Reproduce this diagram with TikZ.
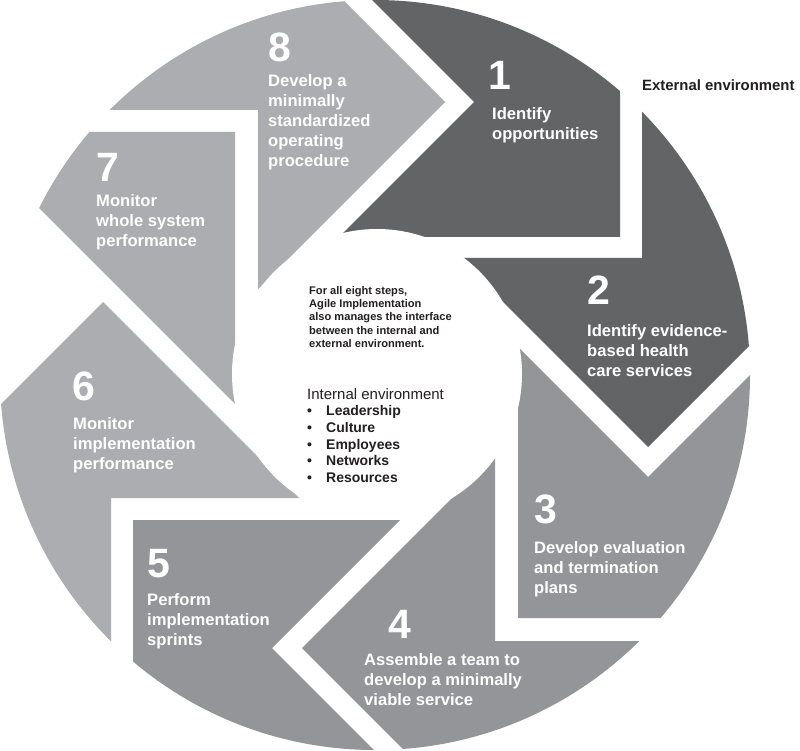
\documentclass[tikz,border=0pt]{standalone}
\usepackage{fontspec}
\setmainfont{Liberation Sans}
\definecolor{darkg}{HTML}{636466}
\definecolor{midg}{HTML}{939598}
\definecolor{lightg}{HTML}{ABADB0}
\definecolor{ink}{HTML}{231F20}
\newcommand{\itm}[1]{\bfseries\fontsize{14}{16.7}\selectfont\makebox[19pt][l]{\textbullet}#1}
\begin{document}
\begin{tikzpicture}[x=1pt,y=-1pt,
  num/.style={anchor=base west, inner sep=0pt, text=white, font=\bfseries\fontsize{41}{41}\selectfont},
  lbl/.style={anchor=north west, inner sep=0pt, text=white, align=left, font=\bfseries\fontsize{16.6}{20}\selectfont},
  note/.style={anchor=north west, inner sep=0pt, text=ink, align=left}]
\useasboundingbox (0,0) rectangle (800,751);
\fill[white] (0,0) rectangle (800,751);
\begin{scope}
  \clip (375,375) circle[radius=375pt];
  % piece 1
  \fill[darkg] (620,237) -- (620,-80) -- (344,-80) -- (344,-28) -- (474,102) -- (339,237) -- cycle;
  % piece 2
  \fill[darkg] (642,258) -- (642,-20) -- (950,-20) -- (950,197) -- (898,197) -- (648,447) -- (459,258) -- cycle;
  % piece 3
  \fill[midg] (648,477) -- (848,277) -- (950,277) -- (950,618) -- (518,618) -- (518,347) -- cycle;
  % piece 4
  \fill[midg] (495,641) -- (950,641) -- (950,950) -- (602,948) -- (302,648) -- (495,455) -- cycle;
  % piece 5
  \fill[midg] (272,648) -- (572,948) -- (133,948) -- (133,520) -- (400,520) -- cycle;
  % piece 6
  \fill[lightg] (111,498) -- (111,950) -- (-197,950) -- (-197,602) -- (103,302) -- (299,498) -- cycle;
  % piece 7
  \fill[lightg] (235,132) -- (-37,132) -- (103,272) -- (235,404) -- cycle;
  % piece 8
  \fill[lightg] (258,110) -- (-100,110) -- (-100,-200) -- (143,-200) -- (445,102) -- (258,289) -- cycle;
\end{scope}
% inner circle
\fill[white] (377,374) circle[radius=145pt];

% numbers
\node[num] (n1) at (488,90) {1};
\node[num] (n2) at (587,305) {2};
\node[num] (n3) at (534,523) {3};
\node[num] (n4) at (388,638) {4};
\node[num] (n5) at (147,577) {5};
\node[num] (n6) at (72,400) {6};
\node[num] (n7) at (96,182) {7};
\node[num] (n8) at (268,62) {8};

% labels
\node[lbl] (l1) at (492,107) {Identify\\opportunities};
\node[lbl] (l2) at (587,324) {Identify evidence-\\based health\\care services};
\node[lbl] (l3) at (534,541) {Develop evaluation\\and termination\\plans};
\node[lbl] (l4) at (364,653) {Assemble a team to\\develop a minimally\\viable service};
\node[lbl] (l5) at (147,593) {Perform\\implementation\\sprints};
\node[lbl] (l6) at (73,417) {Monitor\\implementation\\performance};
\node[lbl] (l7) at (96,194) {Monitor\\whole system\\performance};
\node[lbl] (l8) at (268,74) {Develop a\\minimally\\standardized\\operating\\procedure};

% centre and outside notes
\node[note, font=\bfseries\fontsize{11.1}{13.3}\selectfont] (ctr) at (309,286)
  {For all eight steps,\\Agile Implementation\\also manages the interface\\between the internal and\\external environment.};
\node[note, font=\fontsize{15}{16.7}\selectfont] (int) at (307,388)
  {Internal environment\\\itm{Leadership}\\\itm{Culture}\\\itm{Employees}\\\itm{Networks}\\\itm{Resources}};
\node[note, font=\bfseries\fontsize{14.9}{18}\selectfont] (ext) at (642,80) {External environment};
\end{tikzpicture}
\end{document}
